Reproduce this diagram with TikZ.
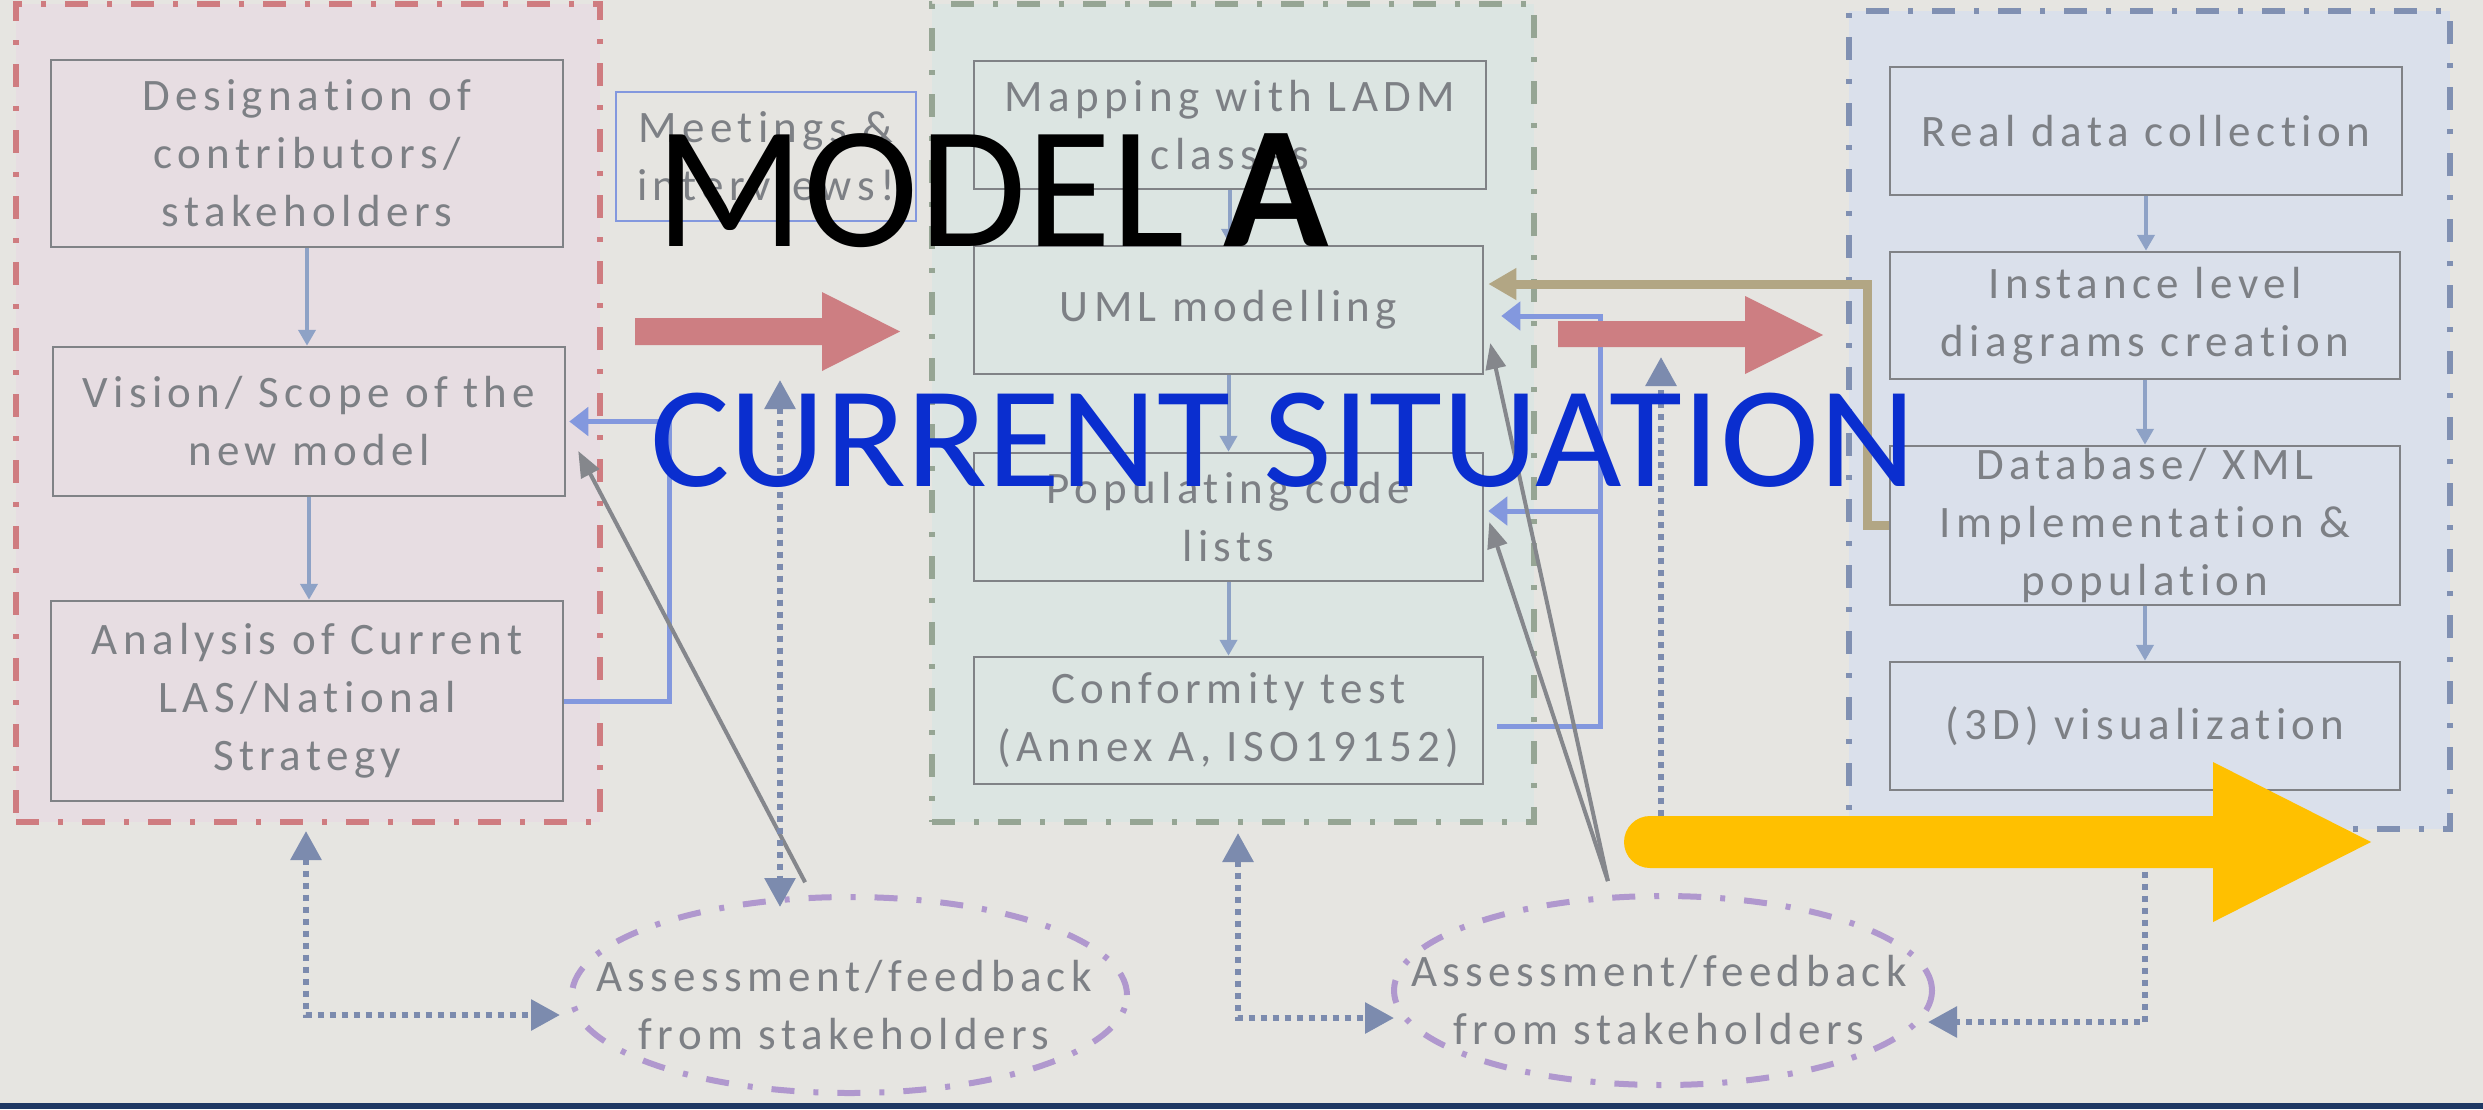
\documentclass[tikz,border=0pt]{standalone}
\usepackage{fontspec}
\setmainfont{Carlito}[Ligatures={NoCommon}]
\newfontfamily\spacedfont{Carlito}[LetterSpace=12,Ligatures={NoCommon}]
\usetikzlibrary{arrows.meta,calc,shapes.geometric}

\definecolor{bgcol}{RGB}{230,229,225}
\definecolor{redfill}{RGB}{231,221,226}
\definecolor{greenfill}{RGB}{220,229,226}
\definecolor{bluefill}{RGB}{218,224,235}
\definecolor{rededge}{RGB}{207,124,128}
\definecolor{greenedge}{RGB}{150,165,148}
\definecolor{blueedge}{RGB}{128,144,178}
\definecolor{boxline}{RGB}{128,130,134}
\definecolor{txtgray}{RGB}{125,128,133}
\definecolor{flowc}{RGB}{142,162,198}
\definecolor{fbc}{RGB}{131,152,222}
\definecolor{grayc}{RGB}{133,135,140}
\definecolor{dotc}{RGB}{124,139,174}
\definecolor{tanc}{RGB}{178,166,132}
\definecolor{redarr}{RGB}{205,126,130}
\definecolor{yellowarr}{RGB}{255,192,0}
\definecolor{purp}{RGB}{176,152,206}
\definecolor{navy}{RGB}{31,56,100}
\definecolor{curblue}{RGB}{10,46,207}

\newcommand\boxtext{\spacedfont\fontsize{45}{58}\selectfont}

\begin{document}
\begin{tikzpicture}[x=1pt,y=-1pt,
  container/.style={line width=6pt, dash pattern=on 23pt off 19pt on 5pt off 19pt, inner sep=0pt},
  stepbox/.style={draw=boxline, line width=2.5pt, inner sep=0pt, font=\boxtext, text=txtgray, align=center},
  feedback/.style={ellipse, draw=purp, line width=6pt, dash pattern=on 23pt off 19pt on 5pt off 19pt, inner sep=0pt},
  fbtext/.style={font=\boxtext, text=txtgray, align=center, inner sep=0pt},
  flow/.style={draw=flowc, line width=4pt, -{Triangle[length=16pt,width=17pt]}},
  fbarr/.style={draw=fbc, line width=5pt, -{Triangle[length=19pt,width=28pt]}},
  grayarr/.style={draw=grayc, line width=4pt, -{Triangle[length=26pt,width=20pt]}},
  dots/.style={draw=dotc, line width=6pt, dash pattern=on 6pt off 6pt},
  DotTip/.tip={Triangle[length=29pt,width=30pt]},
  tanarr/.style={draw=tanc, line width=9pt, -{Triangle[length=28pt,width=30pt]}},
  title/.style={anchor=base west, inner sep=0pt}
]
% canvas
\useasboundingbox (0,0) rectangle (2483,1109);
\fill[bgcol] (0,0) rectangle (2483,1109);
\fill[navy] (0,1103) rectangle (2483,1109);

% phase containers
\node[container, draw=rededge, fill=redfill, minimum width=584pt, minimum height=818pt] (CR) at (308,413) {};
\node[container, draw=greenedge, fill=greenfill, minimum width=602pt, minimum height=818pt] (CG) at (1233,413) {};
\node[container, draw=blueedge, fill=bluefill, minimum width=601pt, minimum height=818pt] (CB) at (2149.5,420) {};

% left column
\node[stepbox, minimum width=512pt, minimum height=187pt] (B1) at (307,153.5) {Designation of\\contributors/\\stakeholders};
\node[stepbox, minimum width=512pt, minimum height=149pt] (B2) at (309,421.5) {Vision/ Scope of the\\new model};
\node[stepbox, minimum width=512pt, minimum height=200pt] (B3) at (307,701) {Analysis of Current\\LAS/National\\Strategy};

% middle column
\node[stepbox, minimum width=512pt, minimum height=128pt] (M1) at (1230,125) {Mapping with LADM\\classes};
\node[stepbox, minimum width=509pt, minimum height=128pt] (M2) at (1228.5,310) {UML modelling};
\node[stepbox, minimum width=509pt, minimum height=128pt] (M3) at (1228.5,517) {Populating code\\lists};
\node[stepbox, minimum width=509pt, minimum height=127pt] (M4) at (1228.5,720.5) {Conformity test\\(Annex A, ISO19152)};

% right column
\node[stepbox, minimum width=512pt, minimum height=128pt] (R1) at (2146,131) {Real data collection};
\node[stepbox, minimum width=510pt, minimum height=127pt] (R2) at (2145,315.5) {Instance level\\diagrams creation};
\node[stepbox, minimum width=510pt, minimum height=159pt] (R3) at (2145,525.5) {Database/ XML\\Implementation \&\\population};
\node[stepbox, minimum width=510pt, minimum height=128pt] (R4) at (2145,726) {(3D) visualization};

% stakeholder feedback ellipses
\node[feedback, minimum width=555pt, minimum height=196pt] (E1) at (849.5,995) {};
\node[fbtext] (E1t) at (844,1005) {Assessment/feedback\\from stakeholders};
\node[feedback, minimum width=538pt, minimum height=189pt] (E2) at (1663,990.5) {};
\node[fbtext] (E2t) at (1659,1000) {Assessment/feedback\\from stakeholders};

% routing points
\coordinate (busT) at (1600,316);
\coordinate (busM) at (1600,511);
\coordinate (busB) at (1600,726);
\coordinate (tanC) at (1867,284);
\coordinate (d1c) at (306,1015);
\coordinate (d2top) at (780,380);
\coordinate (d3c) at (1238,1018);
\coordinate (d4foot) at (1661,840);
\coordinate (d4top) at (1661,357);
\coordinate (d5c) at (2145,1022);

% sequence arrows
\draw[flow] (B1.south) -- (B1.south |- B2.north);
\draw[flow] (B2.south) -- (B2.south |- B3.north);
\draw[flow] (M1.south) -- (M1.south |- M2.north);
\draw[flow] (M2.south) -- (M2.south |- M3.north);
\draw[flow] (M3.south) -- (M3.south |- M4.north);
\draw[flow] (R1.south) -- (R1.south |- R2.north);
\draw[flow] (R2.south) -- (R2.south |- R3.north);
\draw[flow] (R3.south) -- (R3.south |- R4.north);

% feedback loops
\draw[fbarr] (B3.east) -- ++(105,0) |- ($(B2.east)+(3,0)$);
\draw[fbarr] ($(M4.east |- busB)+(13,0)$) -- (busB) -- (busT) -- ($(M2.east |- busT)+(17,0)$);
\draw[fbarr] (busM) -- ($(M3.east |- busM)+(4,0)$);
\draw[tanarr] (R3.west) -- (R3.west -| tanC) |- ($(M2.east |- tanC)+(4,0)$);

% stakeholder input
\draw[grayarr] ($(E1.114)+(0,-13)$) -- ($(B2.east)+(12,29.5)$);
\draw[grayarr] ($(E2.120)+(0,-14)$) -- ($(M2.east)+(6,33)$);
\draw[grayarr] ($(E2.120)+(0,-14)$) -- ($(M3.east)+(5,5)$);

% assessment exchanges
\draw[dots, DotTip-DotTip] ($(CR.south -| d1c)+(0,6)$) -- (d1c) -- ($(E1.west |- d1c)+(-9,0)$);
\draw[dots, DotTip-DotTip] (d2top) -- ($(d2top |- E1.north)+(0,13)$);
\draw[dots, DotTip-DotTip] ($(CG.south -| d3c)+(0,8)$) -- (d3c) -- ($(E2.west |- d3c)+(3,0)$);
\draw[dots, -DotTip] (d4foot) -- (d4top);
\draw[dots, DotTip-DotTip] (CB.south -| d5c) -- (d5c) -- ($(E2.east |- d5c)+(-7,0)$);

% phase transitions
\fill[redarr] (635,318) -- (822,318) -- (822,292) -- (900,331.5) -- (822,371) -- (822,345) -- (635,345) -- cycle;
\fill[redarr] (1558,321) -- (1745,321) -- (1745,296) -- (1823,335) -- (1745,374) -- (1745,347) -- (1558,347) -- cycle;
\fill[yellowarr] (1650,816) -- (2213,816) -- (2213,762) -- (2371,842) -- (2213,922) -- (2213,868) -- (1650,868) arc[start angle=270, end angle=90, radius=26pt] -- cycle;

% side note
\node[stepbox, draw=fbc, line width=2pt, minimum width=300pt, minimum height=129pt] (MT) at (766,156.5) {Meetings \&\\interviews!};

% headings
\node[title, font=\fontsize{174}{174}\selectfont] (ttlA) at (655,246) {MODEL \textbf{A}};
\node[title, text=curblue, font=\fontsize{144}{144}\selectfont] (ttlB) at (650,486) {\scalebox{1.037}[1]{CURRENT SITUATION}};
\end{tikzpicture}
\end{document}
